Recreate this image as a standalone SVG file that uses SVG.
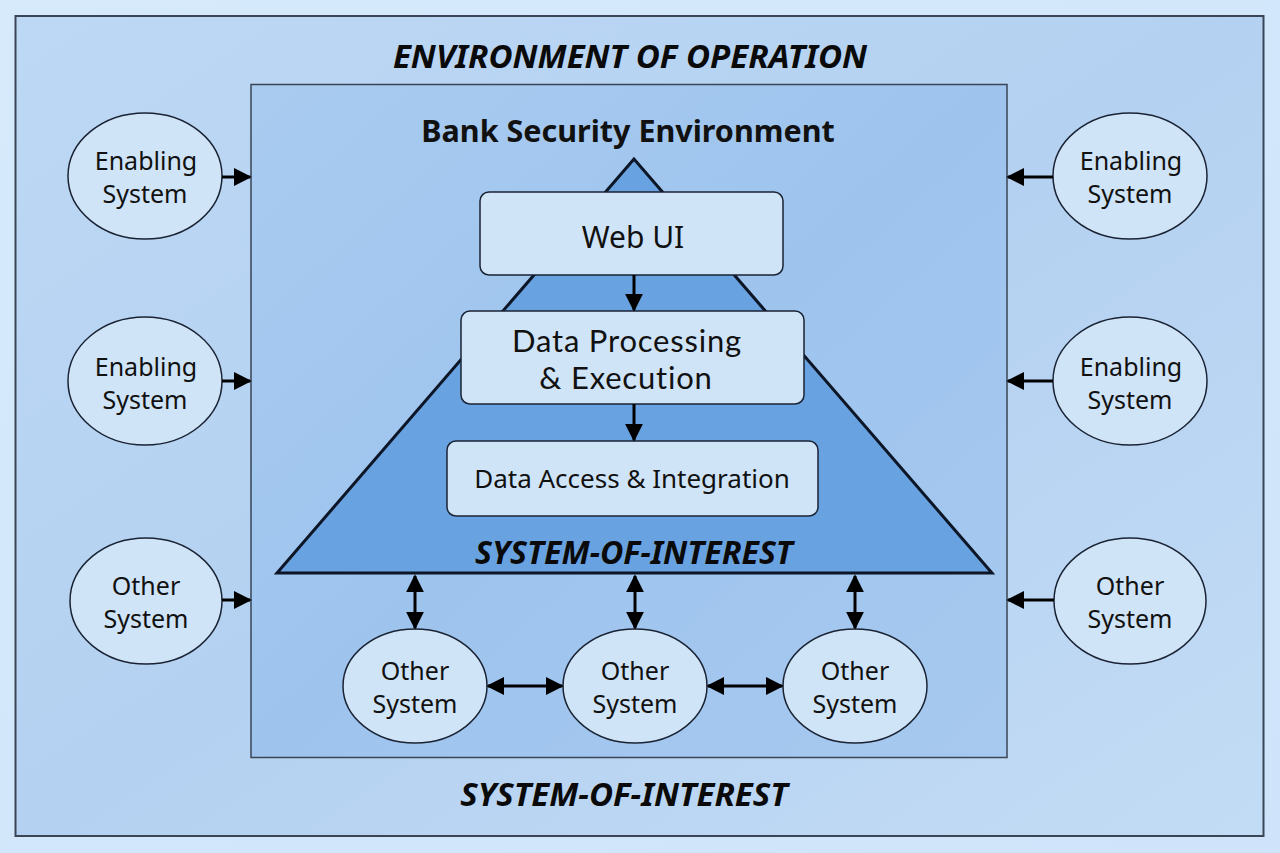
<svg xmlns="http://www.w3.org/2000/svg" width="1280" height="853" viewBox="0 0 1280 853">
<defs>
<linearGradient id="bg" x1="0" y1="0" x2="1" y2="1"><stop offset="0" stop-color="#d6eafc"/><stop offset="1" stop-color="#cfe4fa"/></linearGradient>
<linearGradient id="outer" x1="0" y1="0" x2="1" y2="1"><stop offset="0" stop-color="#bcd8f4"/><stop offset="0.5" stop-color="#b4d1f1"/><stop offset="1" stop-color="#c3dcf5"/></linearGradient>
<linearGradient id="inner" x1="0" y1="0" x2="1" y2="1"><stop offset="0" stop-color="#a9cbf0"/><stop offset="0.5" stop-color="#9ec4ee"/><stop offset="1" stop-color="#a7c9ef"/></linearGradient>
<marker id="ah" viewBox="0 0 10 10" refX="9" refY="5" markerWidth="6" markerHeight="6" orient="auto-start-reverse" markerUnits="strokeWidth"><path d="M0,0 L10,5 L0,10 z" fill="#000"/></marker>
<style>
.node{fill:#d0e4f8;stroke:#1a2333;stroke-width:1.5}
.box{fill:#d0e4f8;stroke:#1a2333;stroke-width:1.5}
.t{font-family:"Noto Sans","Open Sans",sans-serif;fill:#111;text-anchor:middle}
.dp{font-family:Lato,"Noto Sans",sans-serif;fill:#111;text-anchor:middle;font-size:31px;letter-spacing:0.8px;font-variant-ligatures:none}
.lab{font-size:25px}
.title{font-family:"Noto Sans","Open Sans",sans-serif;font-weight:bold;font-style:italic;fill:#0a0a0a;text-anchor:middle}
.conn line{stroke:#000;stroke-width:3}
</style>
</defs>
<rect x="0" y="0" width="1280" height="853" fill="url(#bg)"/>
<rect id="outer-frame" x="15.5" y="16" width="1248" height="820" fill="url(#outer)" stroke="#3a4656" stroke-width="2"/>
<text class="title" x="630" y="68" font-size="33">ENVIRONMENT OF OPERATION</text>
<rect id="inner-frame" x="251" y="84.5" width="756" height="673" fill="url(#inner)" stroke="#3a4656" stroke-width="1.5"/>
<text class="t" x="628" y="142" font-size="30.5" font-weight="bold" fill="#0a0a0a">Bank Security Environment</text>
<text class="title" x="624" y="806" font-size="33">SYSTEM-OF-INTEREST</text>

<g id="system-of-interest">
<polygon points="634,159 277,573 992,573" fill="#69a2e0" stroke="#0d1626" stroke-width="3" stroke-linejoin="miter"/>
<text class="title" x="634" y="564" font-size="32">SYSTEM-OF-INTEREST</text>
</g>

<g id="web-ui"><rect class="box" x="480" y="192" width="303" height="83" rx="9"/><text class="t" x="633" y="248" font-size="30">Web UI</text></g>
<g id="data-processing"><rect class="box" x="461" y="311" width="343" height="93" rx="9"/><text class="dp" x="627" y="352">Data Processing</text><text class="dp" x="626" y="389">&amp; Execution</text></g>
<g id="data-access"><rect class="box" x="447" y="441" width="371" height="75" rx="9"/><text class="t" x="632" y="488" font-size="26">Data Access &amp; Integration</text></g>

<g id="enabling-left-1"><ellipse class="node" cx="145" cy="176" rx="77" ry="63"/><text class="t lab" x="146" y="170">Enabling</text><text class="t lab" x="145" y="203">System</text></g>
<g id="enabling-left-2"><ellipse class="node" cx="145" cy="381" rx="77" ry="64"/><text class="t lab" x="146" y="376">Enabling</text><text class="t lab" x="145" y="409">System</text></g>
<g id="other-left"><ellipse class="node" cx="146" cy="601" rx="76" ry="63"/><text class="t lab" x="146" y="595">Other</text><text class="t lab" x="146" y="628">System</text></g>
<g id="enabling-right-1"><ellipse class="node" cx="1130" cy="176" rx="77" ry="63"/><text class="t lab" x="1131" y="170">Enabling</text><text class="t lab" x="1130" y="203">System</text></g>
<g id="enabling-right-2"><ellipse class="node" cx="1130" cy="381" rx="77" ry="64"/><text class="t lab" x="1131" y="376">Enabling</text><text class="t lab" x="1130" y="409">System</text></g>
<g id="other-right"><ellipse class="node" cx="1130" cy="601" rx="76" ry="63"/><text class="t lab" x="1130" y="595">Other</text><text class="t lab" x="1130" y="628">System</text></g>

<g id="other-bottom-1"><ellipse class="node" cx="415" cy="686" rx="72" ry="57"/><text class="t lab" x="415" y="680">Other</text><text class="t lab" x="415" y="713">System</text></g>
<g id="other-bottom-2"><ellipse class="node" cx="635" cy="686" rx="72" ry="57"/><text class="t lab" x="635" y="680">Other</text><text class="t lab" x="635" y="713">System</text></g>
<g id="other-bottom-3"><ellipse class="node" cx="855" cy="686" rx="72" ry="57"/><text class="t lab" x="855" y="680">Other</text><text class="t lab" x="855" y="713">System</text></g>

<g id="connectors" class="conn">
<line x1="222" y1="177" x2="250" y2="177" marker-end="url(#ah)"/>
<line x1="222" y1="381" x2="250" y2="381" marker-end="url(#ah)"/>
<line x1="222" y1="600" x2="250" y2="600" marker-end="url(#ah)"/>
<line x1="1053" y1="177" x2="1008" y2="177" marker-end="url(#ah)"/>
<line x1="1053" y1="381" x2="1008" y2="381" marker-end="url(#ah)"/>
<line x1="1054" y1="600" x2="1008" y2="600" marker-end="url(#ah)"/>
<line x1="634" y1="275" x2="634" y2="310" marker-end="url(#ah)"/>
<line x1="634" y1="404" x2="634" y2="440" marker-end="url(#ah)"/>
<line x1="415" y1="576" x2="415" y2="628" marker-start="url(#ah)" marker-end="url(#ah)"/>
<line x1="635" y1="576" x2="635" y2="628" marker-start="url(#ah)" marker-end="url(#ah)"/>
<line x1="855" y1="576" x2="855" y2="628" marker-start="url(#ah)" marker-end="url(#ah)"/>
<line x1="488" y1="686" x2="562" y2="686" marker-start="url(#ah)" marker-end="url(#ah)"/>
<line x1="708" y1="686" x2="782" y2="686" marker-start="url(#ah)" marker-end="url(#ah)"/>
</g>
</svg>
